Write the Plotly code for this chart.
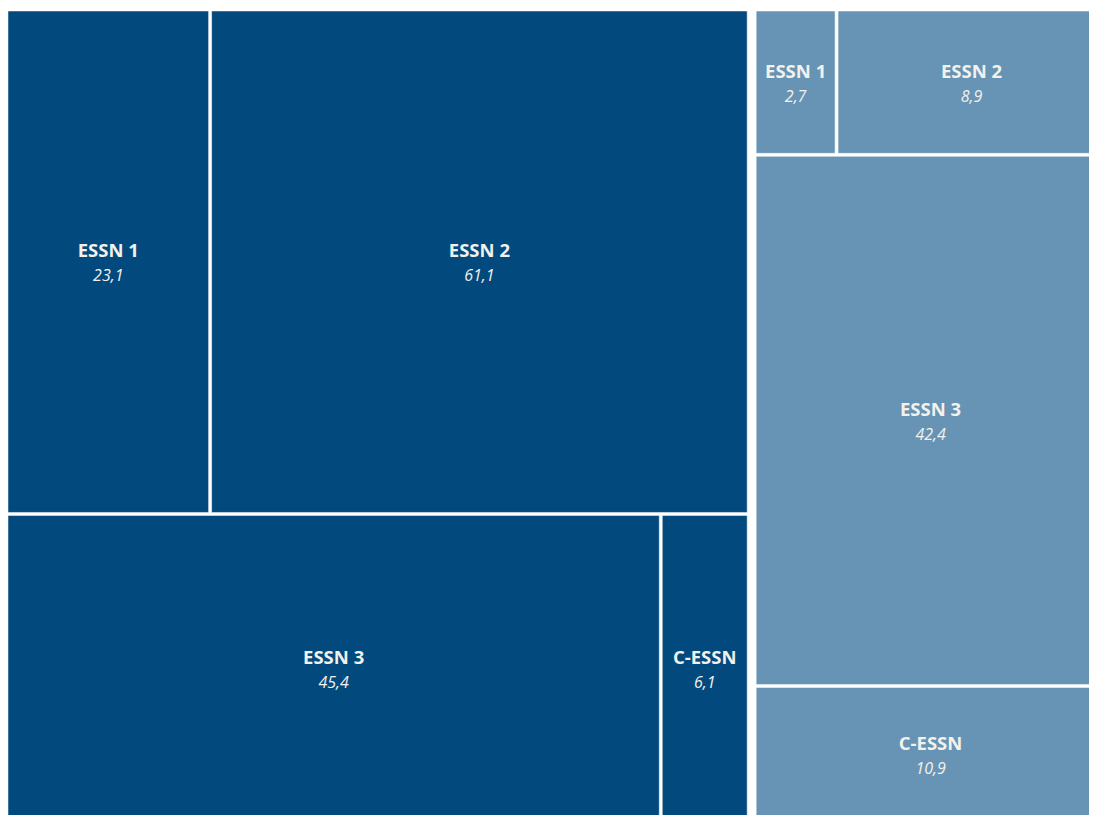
import plotly.graph_objects as go

groups = ["A", "B"]
group_colors = ["#02497D", "#6794B5"]
labels_a = ["ESSN 1", "ESSN 2", "ESSN 3", "C-ESSN"]
values_a = [23.1, 61.1, 45.4, 6.1]
labels_b = ["ESSN 1", "ESSN 2", "ESSN 3", "C-ESSN"]
values_b = [2.7, 8.9, 42.4, 10.9]

ids, labels, parents, values, colors, texts = [], [], [], [], [], []
for g, c, labs, vals in [(groups[0], group_colors[0], labels_a, values_a),
                         (groups[1], group_colors[1], labels_b, values_b)]:
    ids.append(g); labels.append(""); parents.append(""); values.append(round(sum(vals), 1))
    colors.append("#FFFFFF"); texts.append("")
    for l, v in zip(labs, vals):
        ids.append(g + l); labels.append(l); parents.append(g); values.append(v)
        colors.append(c)
        texts.append("<b>" + l + "</b><br><span style='font-size:16px'><i>"
                     + f"{v:.1f}".replace(".", ",") + "</i></span>")

fig = go.Figure(go.Treemap(
    ids=ids, labels=labels, parents=parents, values=values,
    branchvalues="total", sort=False,
    text=texts, texttemplate="%{text}", textposition="middle center",
    marker=dict(colors=colors, line=dict(color="#FFFFFF", width=0.5),
                pad=dict(t=0, l=0, r=6, b=0)),
    tiling=dict(packing="squarify"),
    insidetextfont=dict(family="Open Sans", size=18.5, color="#F3F1EC"),
    hoverinfo="label+value",
    pathbar=dict(visible=False),
))
fig.update_layout(
    width=1109, height=813,
    margin=dict(l=0, r=0, t=3, b=0),
    paper_bgcolor="#FFFFFF",
    showlegend=False,
)
fig.write_html("out.html")
